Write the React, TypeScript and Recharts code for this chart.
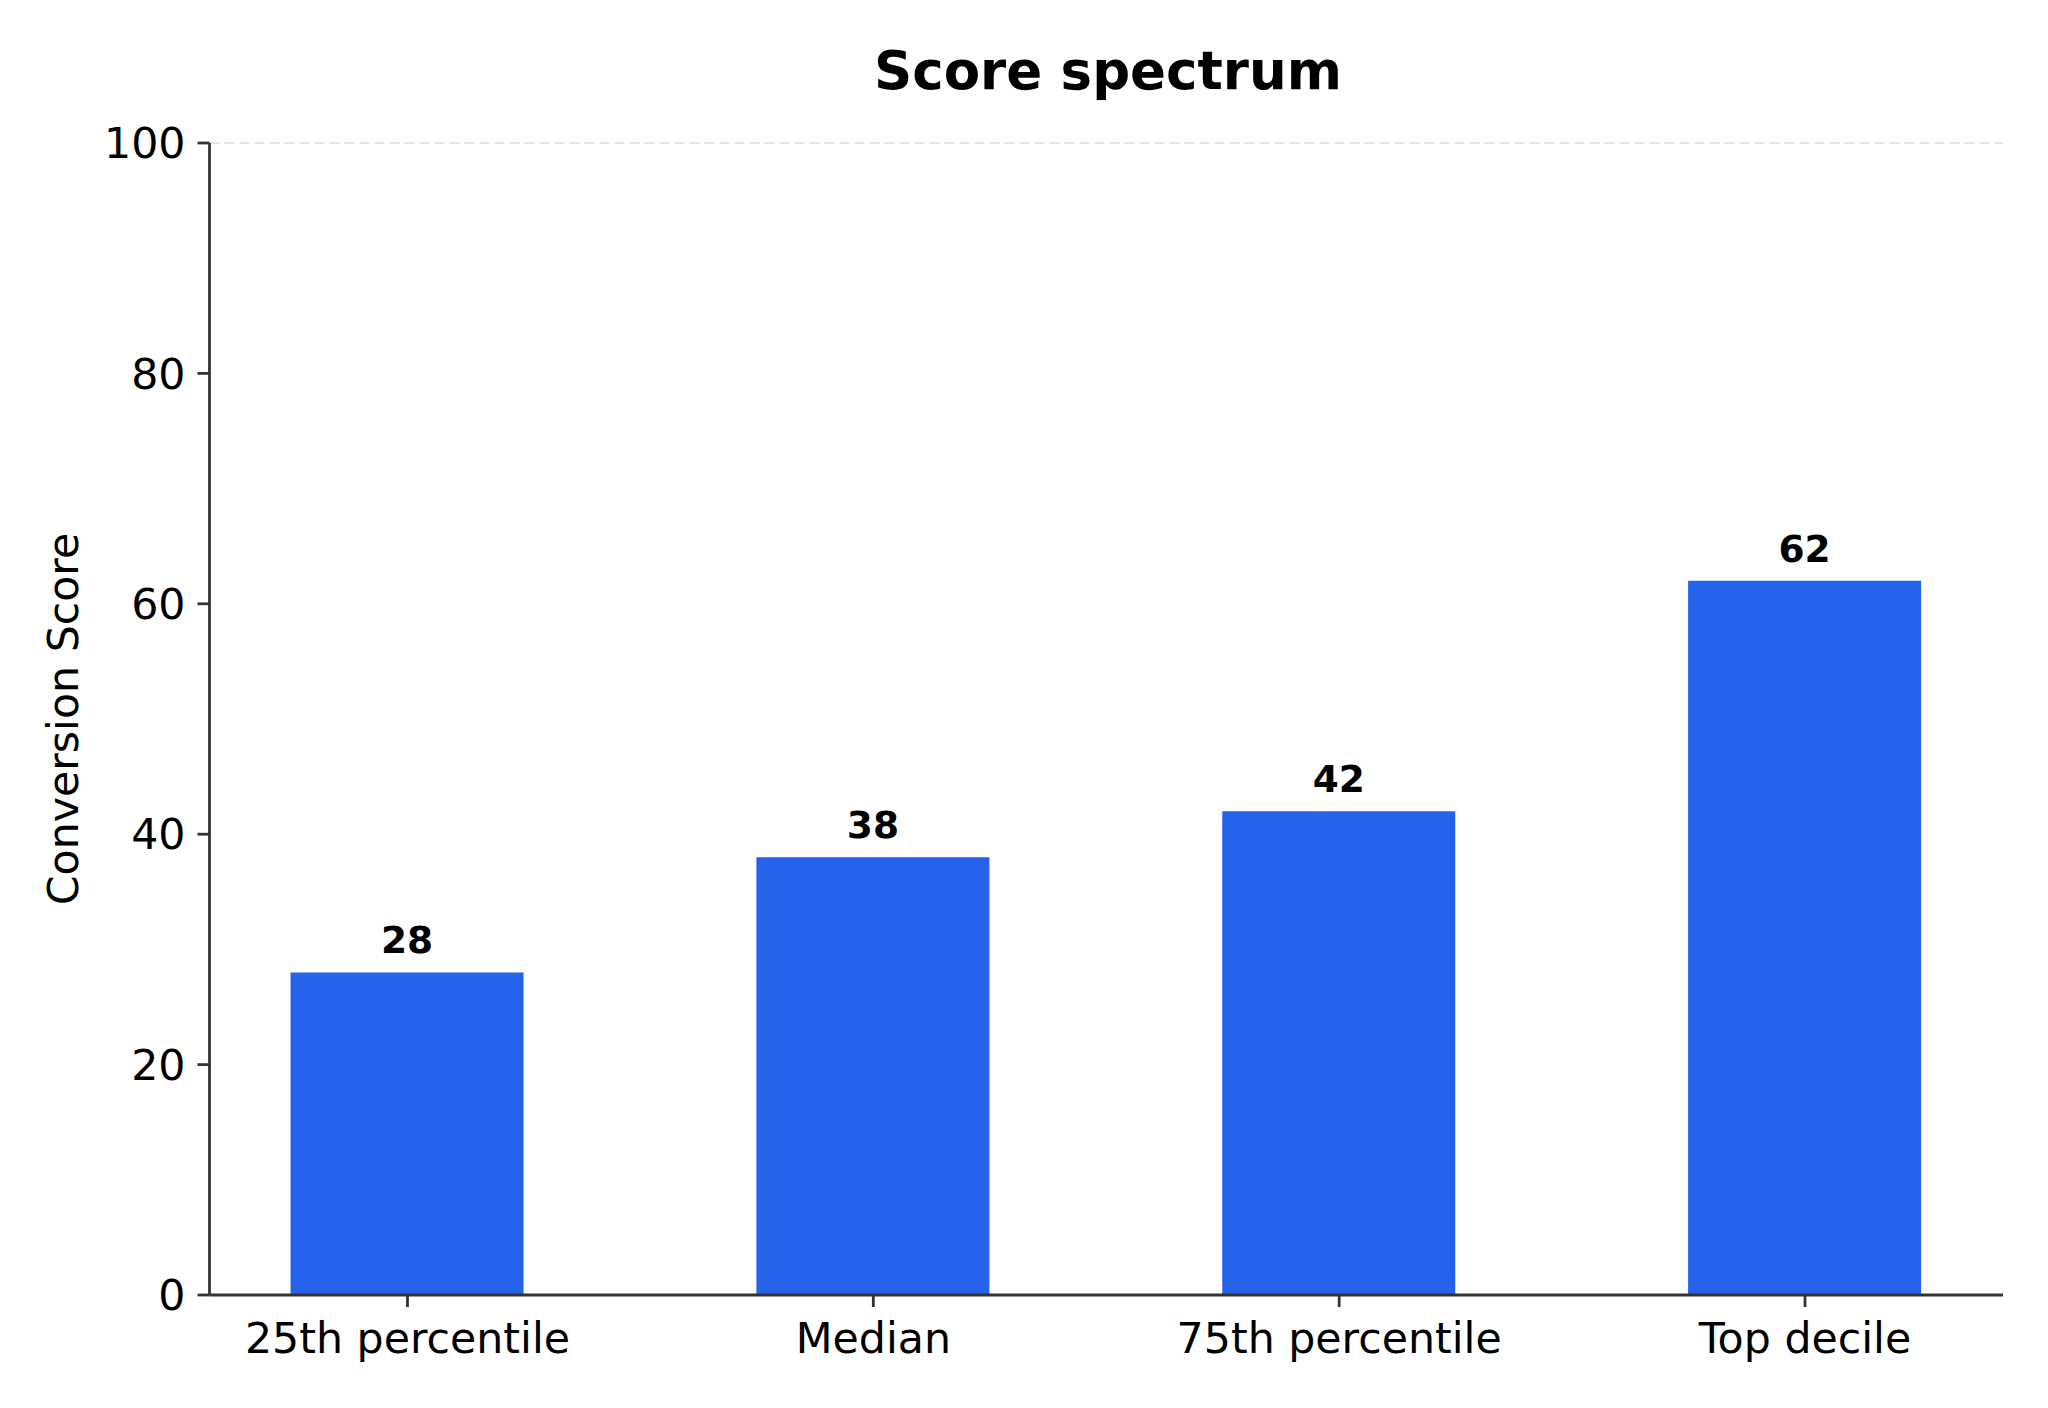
import React from 'react';
import { BarChart, Bar, XAxis, YAxis, LabelList, ReferenceLine, Customized } from 'recharts';

const categories = ['25th percentile', 'Median', '75th percentile', 'Top decile'];
const scores = [28, 38, 42, 62];
const yTicks = [0, 20, 40, 60, 80, 100];
const xTicks = [0, 1, 2, 3];
const titleText = 'Score spectrum';
const yLabelText = 'Conversion Score';

const data = categories.map((name, i) => ({ idx: i, name, value: scores[i] }));

const FONT = '"DejaVu Sans", sans-serif';
const AXIS_COLOR = '#333333';

const Title = () => (
  <text x={1108} y={89} textAnchor="middle" fontFamily={FONT} fontWeight="bold" fontSize={53} fill="#000">
    {titleText}
  </text>
);

const YLabel = () => (
  <text
    x={63}
    y={719}
    transform="rotate(-90 63 719)"
    textAnchor="middle"
    dominantBaseline="central"
    fontFamily={FONT}
    fontSize={42.7}
    fill="#000"
  >
    {yLabelText}
  </text>
);

export default function App() {
  return (
    <div style={{ position: 'absolute', left: 0, top: 0, width: 2048, height: 1408, background: '#fff' }}>
      <BarChart
        width={2048}
        height={1408}
        data={data}
        margin={{ top: 143, right: 45, bottom: 0, left: 0 }}
      >
        <XAxis
          dataKey="idx"
          type="number"
          domain={[-0.425, 3.425]}
          ticks={xTicks}
          tickFormatter={(v: number) => categories[v]}
          height={113}
          allowDecimals={false}
          interval={0}
          axisLine={{ stroke: AXIS_COLOR, strokeWidth: 2.8 }}
          tickLine={{ stroke: AXIS_COLOR, strokeWidth: 2.8 }}
          tickSize={12}
          tickMargin={16}
          tick={{ fontFamily: FONT, fontSize: 42.7, fill: '#000' }}
        />
        <YAxis
          type="number"
          domain={[0, 100]}
          ticks={yTicks}
          width={209.5}
          interval={0}
          axisLine={{ stroke: AXIS_COLOR, strokeWidth: 2.8 }}
          tickLine={{ stroke: AXIS_COLOR, strokeWidth: 2.8 }}
          tickSize={12}
          tickMargin={12}
          tick={{ fontFamily: FONT, fontSize: 42.7, fill: '#000' }}
        />
        <ReferenceLine y={100} stroke="#dddddd" strokeWidth={1.5} strokeDasharray="10 5" />
        <Bar dataKey="value" fill="#2563EB" barSize={233} isAnimationActive={false}>
          <LabelList
            dataKey="value"
            position="top"
            offset={19}
            style={{ fontFamily: FONT, fontSize: 37.5, fontWeight: 'bold', fill: '#000' }}
          />
        </Bar>
        <Customized component={Title} />
        <Customized component={YLabel} />
      </BarChart>
    </div>
  );
}
